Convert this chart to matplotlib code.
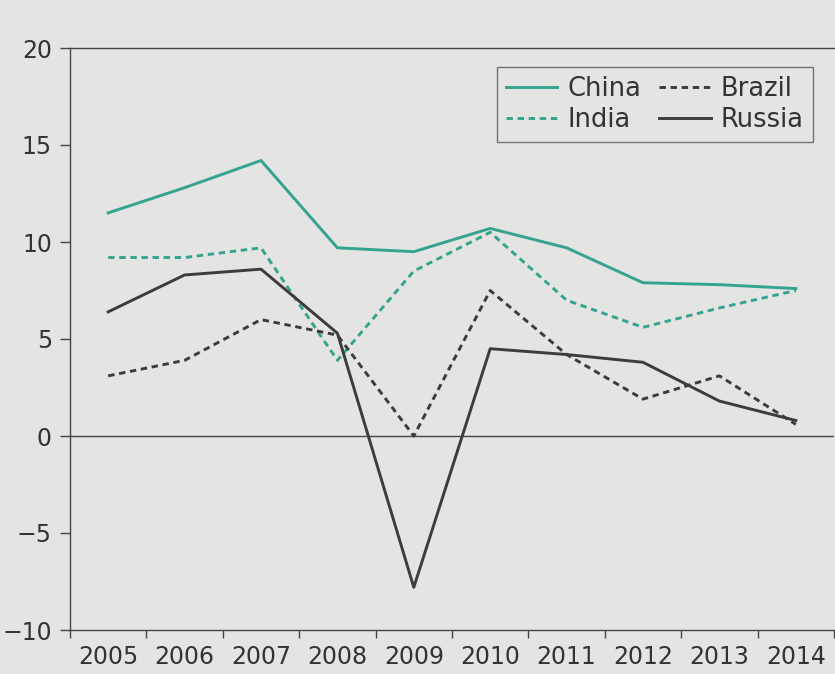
import matplotlib
matplotlib.use("Agg")
import matplotlib.pyplot as plt
import numpy as np

years = ["2005", "2006", "2007", "2008", "2009", "2010", "2011", "2012", "2013", "2014"]
china = [11.5, 12.8, 14.2, 9.7, 9.5, 10.7, 9.7, 7.9, 7.8, 7.6]
india = [9.2, 9.2, 9.7, 3.9, 8.5, 10.5, 7.0, 5.6, 6.6, 7.5]
brazil = [3.1, 3.9, 6.0, 5.2, 0.0, 7.5, 4.2, 1.9, 3.1, 0.6]
russia = [6.4, 8.3, 8.6, 5.3, -7.8, 4.5, 4.2, 3.8, 1.8, 0.8]
yticks = [-10, -5, 0, 5, 10, 15, 20]

plt.rcParams['font.family'] = ['DejaVu Sans']
bg = '#e4e4e2'
teal = '#35a48e'
dark = '#3c3c3c'
txt = '#333333'

fig = plt.figure(figsize=(8.35, 6.74), dpi=100, facecolor=bg)
ax = fig.add_axes([70/835, 1-630/674, 764/835, (630-48)/674])
ax.set_facecolor(bg)

x = np.arange(len(years))
lw = 2.1
dash = (0, (2.2, 1.6))
l1, = ax.plot(x, china, color=teal, lw=lw, label='China')
l2, = ax.plot(x, india, color=teal, lw=lw, ls=dash, label='India')
l3, = ax.plot(x, brazil, color=dark, lw=lw, ls=dash, label='Brazil')
l4, = ax.plot(x, russia, color=dark, lw=lw, label='Russia')

ax.axhline(0, color='#444444', lw=1.0, zorder=1)

ax.set_xlim(-0.5, len(years) - 0.5)
ax.set_ylim(-10, 20)
ax.set_yticks(yticks)
ax.set_yticklabels([str(v).replace('-', '\u2212') for v in yticks])
ax.set_xticks(np.arange(len(years) + 1) - 0.5)
ax.set_xticklabels([])
ax.set_xticks(x, minor=True)
ax.set_xticklabels(years, minor=True)
ax.tick_params(axis='x', which='major', length=6, width=1, color='#444444', direction='out')
ax.tick_params(axis='x', which='minor', length=0, pad=11, labelsize=17, labelcolor=txt)
ax.tick_params(axis='y', length=7, width=1, color='#444444', direction='out', pad=6,
               labelsize=17, labelcolor=txt)

for s in ['left', 'bottom', 'top']:
    ax.spines[s].set_color('#444444')
    ax.spines[s].set_linewidth(1.0)
ax.spines['right'].set_visible(False)

leg = ax.legend(handles=[l1, l2, l3, l4], ncol=2, loc='upper right',
                bbox_to_anchor=(0.9725, 0.967), fontsize=18.5, frameon=True,
                fancybox=False, handlelength=2.0, handletextpad=0.4,
                columnspacing=0.7, labelspacing=0.2, borderpad=0.35,
                borderaxespad=0.0)
leg.get_frame().set_edgecolor('#555555')
leg.get_frame().set_linewidth(1.0)
leg.get_frame().set_facecolor(bg)
for t in leg.get_texts():
    t.set_color(txt)

fig.savefig('out.png', dpi=100, facecolor=bg)
